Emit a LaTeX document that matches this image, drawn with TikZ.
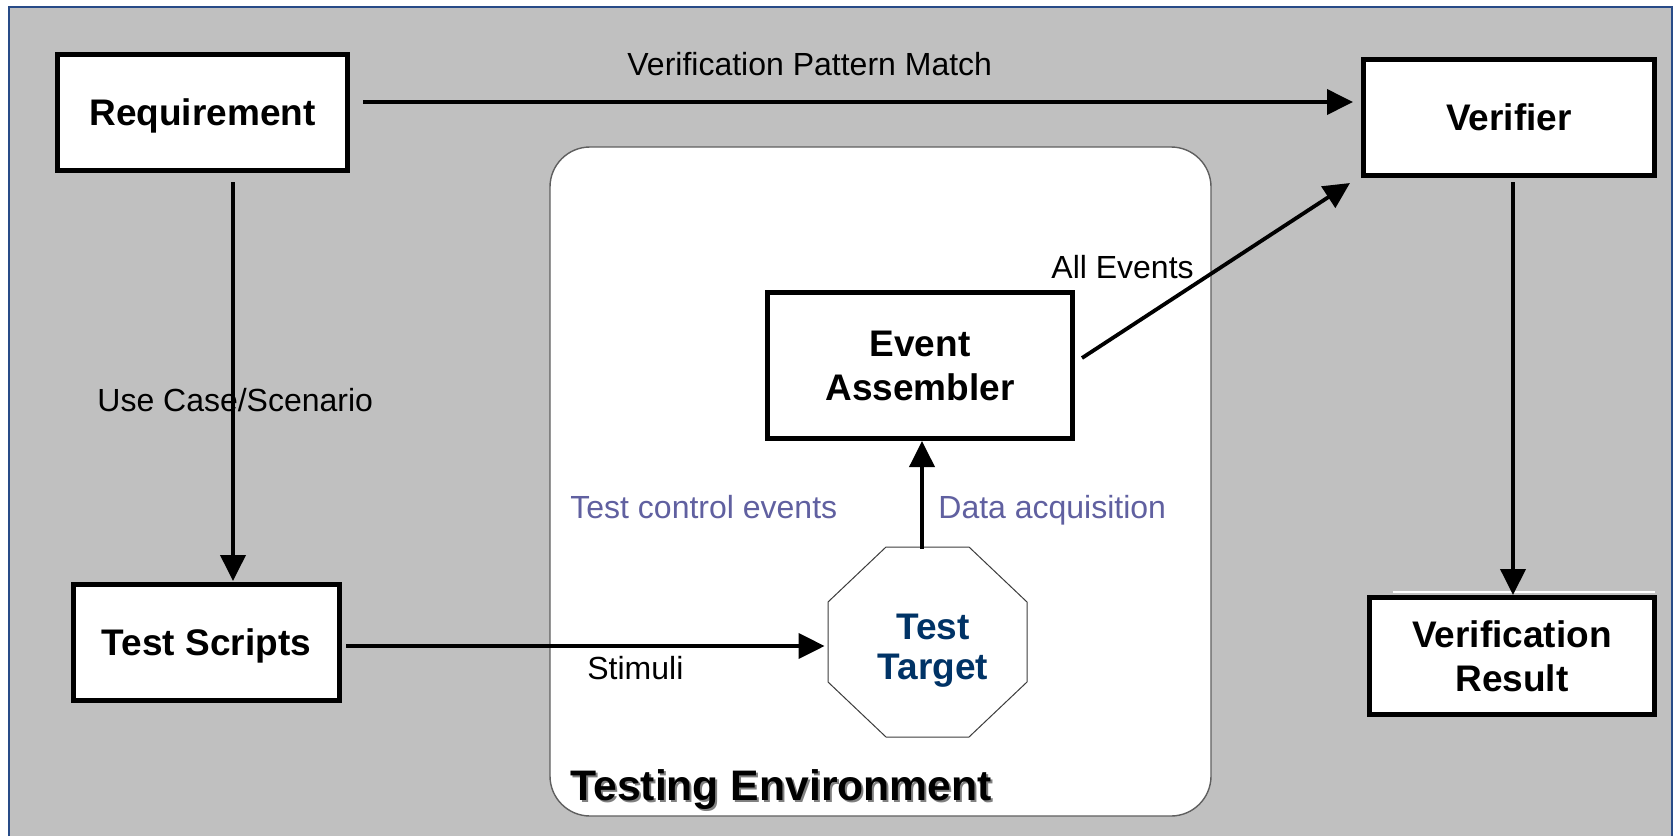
\documentclass[tikz,border=0pt]{standalone}
\usepackage{fontspec}
\setmainfont{Liberation Sans}
\usetikzlibrary{arrows.meta,calc}
\definecolor{bggray}{RGB}{192,192,192}
\definecolor{frameblue}{RGB}{40,75,135}
\definecolor{navyblue}{RGB}{0,51,102}
\definecolor{lblpurple}{RGB}{96,96,160}
\definecolor{envedge}{RGB}{95,95,95}
\definecolor{octedge}{RGB}{60,60,60}
\begin{document}
\begin{tikzpicture}[x=0.5pt,y=-0.5pt,
  box/.style={draw=black, line width=2.5pt, fill=white, inner sep=0pt,
    font=\bfseries\fontsize{18.5}{21}\selectfont, align=center},
  onebox/.style={box, text depth=0pt},
  lbl/.style={anchor=base west, inner sep=0pt, font=\fontsize{16}{19}\selectfont},
  plbl/.style={lbl, text=lblpurple},
  arr/.style={line width=1.9pt, -{Triangle[length=13pt,width=12.5pt]}},
]
\useasboundingbox (0,0) rectangle (1676,836);
\fill[white] (0,0) rectangle (1676,836);
\fill[bggray] (9,7) rectangle (1672,836);
\draw[frameblue, line width=1pt] (9,836) -- (9,7) -- (1672,7) -- (1672,836);

% testing environment container
\node[draw=envedge, line width=0.7pt, fill=white, rounded corners=20pt,
  minimum width=330.5pt, minimum height=334.5pt, inner sep=0pt] (env) at (880.5,481.5) {};
\node[anchor=base west, inner sep=0pt, text=gray, font=\bfseries\fontsize{21.35}{25}\selectfont] (envshadow) at (572,802) {Testing Environment};
\node[anchor=base west, inner sep=0pt, font=\bfseries\fontsize{21.35}{25}\selectfont] (envlbl) at (570,800) {Testing Environment};

% boxes
\node[onebox, minimum width=145pt, minimum height=58pt] (req) at (202.5,112.5) {Requirement};
\node[onebox, minimum width=145.5pt, minimum height=58pt] (ver) at (1509,117.5) {Verifier};
\node[box, minimum width=142.5pt, minimum height=58.5pt, font=\bfseries\fontsize{18.5}{22}\selectfont] (vr) at (1512,656) {Verification\\Result};
\node[box, minimum width=152.5pt, minimum height=73pt, font=\bfseries\fontsize{18.5}{22}\selectfont] (ea) at (920,365.5) {Event\\Assembler};
\node[onebox, minimum width=133pt, minimum height=58pt] (ts) at (206.5,642.5) {Test Scripts};
\draw[white, line width=1.3pt] (1393,592) -- (1655,592);

% test target octagon
\draw[octedge, line width=0.5pt, fill=white] (886,547) -- (969,547) -- (1027,602) -- (1027,682)
  -- (969,737) -- (886,737) -- (828,682) -- (828,602) -- cycle;
\node[minimum width=99.5pt, minimum height=95pt, inner sep=0pt] (tt) at (927.5,642) {};
\node[align=center, inner sep=0pt, text=navyblue, font=\bfseries\fontsize{18.5}{20}\selectfont] (tttext) at (933,651) {Test\\Target};

% connectors
\draw[arr] ([shift={(13,-10.5)}]req.east) -- ([shift={(-8,-15.5)}]ver.west);
\draw[arr] ([shift={(30.5,9)}]req.south) -- ([shift={(26.5,-1)}]ts.north);
\draw[arr] ([shift={(4,3.5)}]ts.east) -- ([shift={(-3,4)}]tt.west);
\draw[arr] ([shift={(-5.5,2)}]tt.north) -- ([shift={(2,0)}]ea.south);
\draw[arr] ([shift={(7,-7.5)}]ea.east) -- ([shift={(-11,5)}]ver.south west);
\draw[arr] ([shift={(4,4)}]ver.south) -- ([shift={(1,0)}]vr.north);

% labels
\node[lbl] (l1) at (627,75) {Verification Pattern Match};
\node[lbl] (l2) at (97,411) {Use Case/Scenario};
\node[lbl] (l3) at (587,679) {Stimuli};
\node[lbl] (l4) at (1051,278) {All Events};
\node[plbl] (l5) at (570,518) {Test control events};
\node[plbl] (l6) at (938,518) {Data acquisition};
\end{tikzpicture}
\end{document}
